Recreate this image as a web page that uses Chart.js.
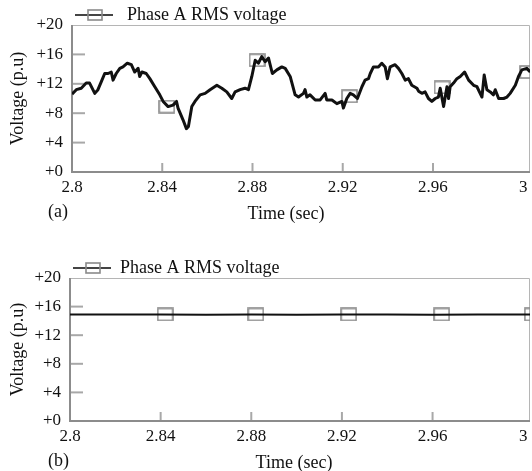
<!DOCTYPE html>
<html>
<head>
<meta charset="utf-8">
<script src="https://cdn.jsdelivr.net/npm/chart.js@4/dist/chart.umd.min.js"></script>
<style>
  html, body { margin: 0; padding: 0; background: #fff; }
  #wrap { position: relative; width: 532px; height: 471px; }
  .box { position: absolute; left: 0; width: 532px; }
  #boxA { top: 0; height: 236px; }
  #boxB { top: 236px; height: 235px; }
</style>
</head>
<body>
<div id="wrap">
  <div class="box" id="boxA"><canvas id="chartA"></canvas></div>
  <div class="box" id="boxB"><canvas id="chartB"></canvas></div>
</div>
<script>
/* ====== data ====== */
const xTicks = [2.8, 2.84, 2.88, 2.92, 2.96, 3.0];
const xTickLabels = ["2.8", "2.84", "2.88", "2.92", "2.96", "3"];
const yTicks = [0, 4, 8, 12, 16, 20];
const yTickLabels = ["+0", "+4", "+8", "+12", "+16", "+20"];

// (a) measured RMS voltage
const timeA = [
  2.8000, 2.8019, 2.8041, 2.8063, 2.8078, 2.8101, 2.8115, 2.8130, 2.8145, 2.8160,
  2.8174, 2.8182, 2.8196, 2.8212, 2.8226, 2.8245, 2.8263, 2.8278, 2.8293, 2.8300,
  2.8310, 2.8329, 2.8345, 2.8367, 2.8389, 2.8404, 2.8426, 2.8448, 2.8463, 2.8470,
  2.8492, 2.8507, 2.8516, 2.8531, 2.8545, 2.8568, 2.8590, 2.8612, 2.8642, 2.8664,
  2.8686, 2.8708, 2.8723, 2.8745, 2.8767, 2.8782, 2.8797, 2.8812, 2.8826, 2.8841,
  2.8856, 2.8871, 2.8888, 2.8908, 2.8930, 2.8945, 2.8967, 2.8989, 2.9004, 2.9026,
  2.9033, 2.9041, 2.9055, 2.9078, 2.9100, 2.9122, 2.9129, 2.9152, 2.9174, 2.9196,
  2.9203, 2.9218, 2.9233, 2.9247, 2.9265, 2.9285, 2.9299, 2.9314, 2.9322, 2.9336,
  2.9358, 2.9373, 2.9388, 2.9398, 2.9410, 2.9432, 2.9447, 2.9462, 2.9477, 2.9491,
  2.9506, 2.9529, 2.9536, 2.9551, 2.9565, 2.9580, 2.9595, 2.9610, 2.9624, 2.9632,
  2.9647, 2.9662, 2.9669, 2.9676, 2.9691, 2.9706, 2.9721, 2.9740, 2.9758, 2.9780,
  2.9795, 2.9809, 2.9817, 2.9827, 2.9839, 2.9854, 2.9868, 2.9876, 2.9891, 2.9913,
  2.9928, 2.9942, 2.9965, 2.9979, 2.9994, 3.0016, 3.0031
];
const voltA = [
  10.6, 11.2, 11.4, 12.1, 12.1, 10.7, 11.2, 12.3, 13.4, 13.4,
  13.6, 12.5, 13.4, 14.1, 14.3, 14.8, 14.6, 13.6, 14.1, 13.0,
  13.6, 13.4, 12.7, 11.6, 10.5, 9.6, 8.9, 9.1, 9.6, 8.7,
  7.1, 5.9, 6.2, 8.9, 9.6, 10.5, 10.7, 11.2, 11.8, 11.4,
  10.9, 10.0, 10.9, 11.2, 11.4, 11.2, 13.0, 15.2, 14.8, 15.7,
  15.0, 15.5, 13.4, 13.9, 14.3, 14.1, 13.0, 10.5, 10.2, 10.7,
  11.2, 10.2, 10.5, 9.8, 9.8, 10.7, 9.8, 9.8, 9.3, 9.6,
  8.7, 10.0, 10.7, 10.5, 10.0, 11.6, 12.5, 12.7, 13.4, 14.3,
  14.3, 14.8, 14.3, 12.7, 14.3, 14.6, 14.1, 13.4, 12.5, 12.7,
  11.8, 11.4, 11.0, 10.7, 10.9, 10.0, 9.6, 10.0, 10.2, 11.4,
  8.9, 11.6, 10.0, 11.6, 12.1, 12.7, 13.0, 13.6, 12.5, 11.8,
  11.6, 10.7, 10.2, 13.2, 11.2, 10.9, 10.5, 11.2, 10.0, 10.0,
  10.2, 10.7, 11.8, 13.0, 13.9, 14.1, 13.6
];
const markTimeA = [2.842, 2.882, 2.923, 2.964, 3.002];
const markVoltA = [8.9, 15.2, 10.3, 11.5, 13.6];

// (b) compensated RMS voltage
const timeB = [2.8, 2.82, 2.84, 2.86, 2.88, 2.90, 2.92, 2.94, 2.96, 2.98, 3.003];
const voltB = [14.9, 14.9, 14.9, 14.85, 14.9, 14.85, 14.9, 14.9, 14.85, 14.9, 14.9];
const markTimeB = [2.842, 2.882, 2.923, 2.964, 3.004];
const markVoltB = [14.9, 14.9, 14.9, 14.9, 14.9];

const seriesName = "Phase A RMS voltage";
const FONT = "'Liberation Serif', 'Times New Roman', serif";

/* ====== hollow grey marker ====== */
function makeMarker(w, h) {
  const c = document.createElement("canvas");
  c.width = w; c.height = h;
  const g = c.getContext("2d");
  g.strokeStyle = "#8a8a8a";
  g.lineWidth = 1.6;
  g.strokeRect(1, 1, w - 2, h - 2);
  return c;
}
const marker = makeMarker(17, 14);
const legendMarker = makeMarker(16, 12);

/* ====== axes frame, inward ticks, legend, labels ====== */
const framePlugin = {
  id: "frame",
  beforeDatasetsDraw(chart) {
    const { ctx, chartArea: a, scales } = chart;
    ctx.save();
    // top + right border
    ctx.strokeStyle = "#b5b5b5";
    ctx.lineWidth = 1;
    ctx.beginPath();
    ctx.moveTo(a.left, a.top + 0.5);
    ctx.lineTo(a.right - 0.5, a.top + 0.5);
    ctx.lineTo(a.right - 0.5, a.bottom);
    ctx.stroke();
    // inward ticks
    ctx.strokeStyle = "#a8a8a8";
    ctx.lineWidth = 2;
    yTicks.slice(1, -1).forEach(v => {
      const y = scales.y.getPixelForValue(v);
      ctx.beginPath();
      ctx.moveTo(a.left, y);
      ctx.lineTo(a.left + 13, y);
      ctx.stroke();
    });
    xTicks.slice(1, -1).forEach(v => {
      const x = scales.x.getPixelForValue(v);
      ctx.beginPath();
      ctx.moveTo(x, a.bottom);
      ctx.lineTo(x, a.bottom - 9);
      ctx.stroke();
    });
    // left + bottom axis
    ctx.strokeStyle = "#8c8c8c";
    ctx.lineWidth = 2;
    ctx.beginPath();
    ctx.moveTo(a.left, a.top);
    ctx.lineTo(a.left, a.bottom);
    ctx.lineTo(a.right, a.bottom);
    ctx.stroke();
    ctx.restore();
  },
  afterDraw(chart, args, opts) {
    const { ctx, chartArea: a } = chart;
    ctx.save();
    // legend
    const ly = a.top - 10;
    ctx.fillStyle = "#fff";
    ctx.fillRect(a.left + 1, 0, opts.legendWidth, a.top - 1);
    ctx.strokeStyle = "#444";
    ctx.lineWidth = 2;
    ctx.beginPath();
    ctx.moveTo(a.left + 3, ly);
    ctx.lineTo(a.left + 41, ly);
    ctx.stroke();
    ctx.drawImage(legendMarker, a.left + 15, ly - 6);
    ctx.fillStyle = "#111";
    ctx.font = "18px " + FONT;
    ctx.textBaseline = "alphabetic";
    ctx.textAlign = "left";
    ctx.fillText(seriesName, a.left + opts.legendText, ly + 5);
    // panel tag and x title
    ctx.fillText(opts.tag, 48, a.bottom + 45);
    ctx.textAlign = "center";
    ctx.fillText("Time (sec)", opts.titleX, a.bottom + 47);
    ctx.restore();
  }
};

function makeChart(id, times, volts, mTimes, mVolts, lineWidth, cfg) {
  return new Chart(document.getElementById(id), {
    type: "line",
    data: {
      datasets: [
        {
          data: times.map((t, i) => ({ x: t, y: volts[i] })),
          borderColor: "#111",
          borderWidth: lineWidth,
          pointRadius: 0,
          tension: 0,
          borderJoinStyle: "round"
        },
        {
          data: mTimes.map((t, i) => ({ x: t, y: mVolts[i] })),
          showLine: false,
          pointStyle: marker,
          pointRadius: 8,
          borderColor: "#8a8a8a"
        }
      ]
    },
    options: {
      responsive: true,
      maintainAspectRatio: false,
      animation: false,
      devicePixelRatio: 1,
      layout: {
        autoPadding: false,
        padding: { top: cfg.top, right: 2, left: 0, bottom: 0 }
      },
      plugins: {
        legend: { display: false },
        tooltip: { enabled: false },
        frame: cfg.frame
      },
      scales: {
        x: {
          type: "linear",
          min: 2.8,
          max: 3.003,
          afterBuildTicks: s => { s.ticks = xTicks.map(v => ({ value: v })); },
          afterFit: s => {
            s.height = cfg.xHeight;
            s.paddingLeft = 0;
            s.paddingRight = 0;
          },
          grid: { display: false, drawTicks: false },
          border: { display: false },
          ticks: {
            autoSkip: false,
            maxRotation: 0,
            padding: 5,
            color: "#111",
            font: { family: FONT, size: 17 },
            callback: v => xTickLabels[xTicks.indexOf(+v.toFixed(2))]
          }
        },
        y: {
          min: 0,
          max: 20,
          afterBuildTicks: s => { s.ticks = yTicks.map(v => ({ value: v })); },
          afterFit: s => { s.width = cfg.left; },
          grid: { display: false, drawTicks: false },
          border: { display: false },
          title: {
            display: true,
            text: "Voltage (p.u)",
            color: "#111",
            font: { family: FONT, size: 18 },
            padding: { top: 7, bottom: 0 }
          },
          ticks: {
            padding: 9,
            color: "#111",
            font: { family: FONT, size: 17 },
            callback: v => yTickLabels[yTicks.indexOf(v)]
          }
        }
      }
    },
    plugins: [framePlugin]
  });
}

makeChart("chartA", timeA, voltA, markTimeA, markVoltA, 3, {
  top: 25, left: 72, xHeight: 64,
  frame: { tag: "(a)", titleX: 286, legendWidth: 312, legendText: 55 }
});
makeChart("chartB", timeB, voltB, markTimeB, markVoltB, 2, {
  top: 42, left: 70, xHeight: 50,
  frame: { tag: "(b)", titleX: 294, legendWidth: 306, legendText: 50 }
});
</script>
</body>
</html>
